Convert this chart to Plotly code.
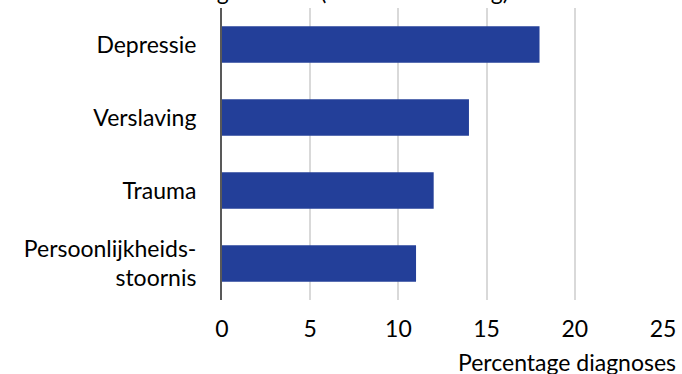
import plotly.graph_objects as go

categories = ["Persoonlijkheids-<br>stoornis", "Trauma", "Verslaving", "Depressie"]
values = [11, 12, 14, 18]
x_ticks = [0, 5, 10, 15, 20, 25]
title_text = "Verdeling cliënten (hoofdaandoening)"
x_title = "Percentage diagnoses"

font = dict(family="Lato", size=23, color="#000000")

fig = go.Figure(go.Bar(
    x=values, y=categories, orientation="h",
    marker=dict(color="#233F99", line=dict(width=0)),
    width=0.5,
))

fig.update_layout(
    width=682, height=374,
    margin=dict(l=222, r=19, t=8, b=74),
    paper_bgcolor="white", plot_bgcolor="white",
    font=font,
    showlegend=False,
    bargap=0.5,
)

fig.update_xaxes(
    range=[0, 25], tickvals=x_ticks,
    showgrid=True, gridcolor="#D9D9D9", gridwidth=2,
    zeroline=False, showline=False, automargin=False,
    ticks="", ticklabelstandoff=13,
)
fig.update_yaxes(
    showline=True, linecolor="#595959", linewidth=2, automargin=False,
    showgrid=False, ticks="", ticklabelstandoff=19,
)

fig.add_annotation(
    text=x_title, xref="paper", yref="paper", x=1.0, y=0,
    xanchor="right", yanchor="middle", yshift=-62, xshift=15,
    showarrow=False, font=font,
)
# title sits above the top edge, only its descenders show
fig.add_annotation(
    text=title_text, xref="paper", yref="paper", x=0.225, y=1,
    xanchor="center", yanchor="bottom", yshift=1,
    showarrow=False, font=font,
)

fig.write_html("out.html", config={"displayModeBar": False},
               post_script="document.body.style.margin='0';")
